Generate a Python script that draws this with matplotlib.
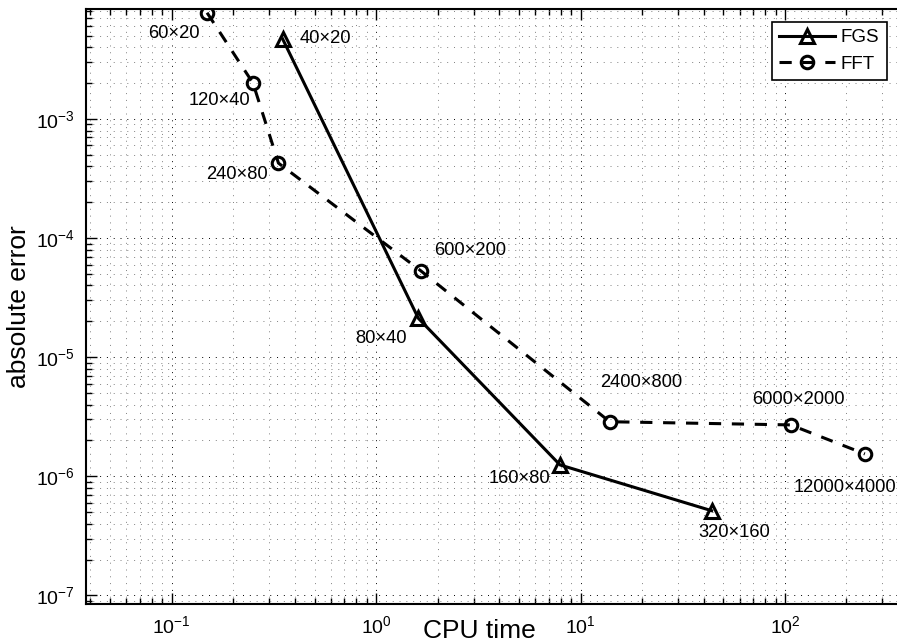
import numpy as np
import matplotlib
matplotlib.use('Agg')
import matplotlib.pyplot as plt

plt.rcParams['font.family'] = ['Liberation Sans', 'DejaVu Sans']
plt.rcParams['mathtext.fontset'] = 'custom'
plt.rcParams['mathtext.rm'] = 'Liberation Sans'
plt.rcParams['mathtext.it'] = 'Liberation Sans'
plt.rcParams['mathtext.default'] = 'regular'

# FGS data
fgs_time = [0.349, 1.61, 7.94, 43.8]
fgs_err = [4.7e-3, 2.12e-5, 1.245e-6, 5.14e-7]
fgs_labels = ['40\u00d720', '80\u00d740', '160\u00d780', '320\u00d7160']

# FFT data
fft_time = [0.149, 0.25, 0.333, 1.65, 13.9, 106.6, 246.0]
fft_err = [7.8e-3, 2.0e-3, 4.26e-4, 5.33e-5, 2.87e-6, 2.7e-6, 1.54e-6]
fft_labels = ['60\u00d720', '120\u00d740', '240\u00d780', '600\u00d7200',
              '2400\u00d7800', '6000\u00d72000', '12000\u00d74000']

# label offsets (pixels, x right / y down)
fgs_off = [(43, 0), (-37, 20), (-41, 14), (23, 22)]
fft_off = [(-33, 21), (-34, 17), (-42, 11), (50, -20), (31, -39), (8, -25), (-20, 34)]

fig = plt.figure(figsize=(8.97, 6.44), dpi=100)
ax = fig.add_axes([86 / 897, 1 - 603.7 / 644, 822 / 897, (603.7 - 9.3) / 644])

ax.loglog(fgs_time, fgs_err, '-', color='k', lw=2.2, marker='^', ms=10,
          mfc='none', mec='k', mew=2.2, label='FGS')
ax.loglog(fft_time, fft_err, color='k', lw=2.2, ls=(0, (4, 3.5)), marker='o', ms=9,
          mfc='none', mec='k', mew=2.2, label='FFT')

for x, y, s, (dx, dy) in zip(fgs_time, fgs_err, fgs_labels, fgs_off):
    ax.annotate(s, (x, y), xytext=(dx, -dy), textcoords='offset pixels',
                ha='center', va='center', fontsize=13.2)
for x, y, s, (dx, dy) in zip(fft_time, fft_err, fft_labels, fft_off):
    ax.annotate(s, (x, y), xytext=(dx, -dy), textcoords='offset pixels',
                ha='center', va='center', fontsize=13.2)

ax.set_xlim(10 ** -1.419, 10 ** 2.602)
ax.set_ylim(10 ** -7.07, 10 ** -2.079)

ax.grid(True, which='major', color='k', ls=(0, (1, 6)), lw=0.7)
ax.grid(True, which='minor', color='0.5', ls=(0, (1, 6)), lw=0.7)
ax.tick_params(which='both', direction='in', top=True, right=True, labelsize=14, width=1)
ax.tick_params(which='major', length=8, pad=8)
ax.tick_params(which='minor', length=4)
for sp in ax.spines.values():
    sp.set_linewidth(1.5)

ax.set_xlabel('CPU time', fontsize=19, va='center')
ax.xaxis.set_label_coords(0.479, -0.046)
ax.set_ylabel('absolute error', fontsize=19, va='center')
ax.yaxis.set_label_coords(-(86 - 19) / 822, 0.5)

leg = ax.legend(loc='upper right', bbox_to_anchor=(887 / 897, 1 - 21.7 / 644),
                bbox_transform=fig.transFigure, borderaxespad=0, fancybox=False,
                edgecolor='k', fontsize=13.5, handlelength=3.0, framealpha=1,
                borderpad=0.4, labelspacing=0.5, handletextpad=0.3)
leg.get_frame().set_linewidth(1.2)

fig.savefig('out.png', dpi=100)
